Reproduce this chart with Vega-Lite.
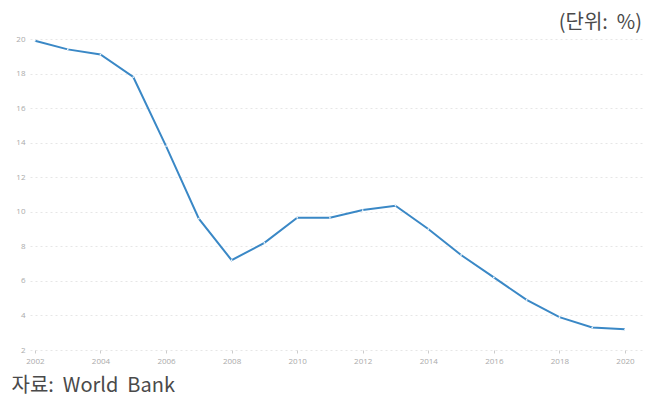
{
  "$schema": "https://vega.github.io/schema/vega-lite/v6.json",
  "autosize": {"type": "none"},
  "padding": {"left": 30, "top": 39, "right": 10, "bottom": 46},
  "width": 613,
  "height": 311,
  "background": "white",
  "title": {
    "text": "(단위:\u00a0\u00a0%)",
    "anchor": "end",
    "orient": "top",
    "font": "Noto Sans CJK KR",
    "fontSize": 20,
    "fontWeight": "normal",
    "color": "#4a4a4a",
    "offset": 2,
    "dx": -1
  },
  "data": {
    "values": [
      {"year": 2002, "value": 19.9},
      {"year": 2003, "value": 19.4},
      {"year": 2004, "value": 19.1},
      {"year": 2005, "value": 17.8},
      {"year": 2006, "value": 13.8},
      {"year": 2007, "value": 9.6},
      {"year": 2008, "value": 7.2},
      {"year": 2009, "value": 8.2},
      {"year": 2010, "value": 9.66},
      {"year": 2011, "value": 9.65},
      {"year": 2012, "value": 10.1},
      {"year": 2013, "value": 10.35},
      {"year": 2014, "value": 9.0},
      {"year": 2015, "value": 7.5},
      {"year": 2016, "value": 6.2},
      {"year": 2017, "value": 4.9},
      {"year": 2018, "value": 3.9},
      {"year": 2019, "value": 3.3},
      {"year": 2020, "value": 3.2}
    ]
  },
  "encoding": {
    "x": {
      "field": "year",
      "type": "quantitative",
      "scale": {"domain": [2001.85, 2020.55], "nice": false, "zero": false},
      "axis": {
        "values": [2002, 2004, 2006, 2008, 2010, 2012, 2014, 2016, 2018, 2020],
        "format": "d",
        "grid": false,
        "domain": false,
        "ticks": true,
        "tickSize": 3,
        "tickColor": "#cccccc",
        "labelFont": "Open Sans",
        "labelFontSize": 8,
        "labelColor": "#aaaaaa",
        "labelPadding": 4,
        "title": "자료:\u00a0\u00a0World\u00a0\u00a0Bank",
        "titleFont": "Noto Sans CJK KR",
        "titleFontSize": 20,
        "titleFontWeight": "normal",
        "titleColor": "#4a4a4a",
        "titleAnchor": "start",
        "titleAlign": "left",
        "titleX": -19,
        "titleY": 45,
        "titleBaseline": "bottom"
      }
    },
    "y": {
      "field": "value",
      "type": "quantitative",
      "scale": {"domain": [2, 20], "nice": false, "zero": false},
      "axis": {
        "values": [2, 4, 6, 8, 10, 12, 14, 16, 18, 20],
        "grid": true,
        "gridColor": "#e6e6e6",
        "gridDash": [2, 3],
        "gridWidth": 1,
        "domain": false,
        "ticks": false,
        "labelFont": "Open Sans",
        "labelFontSize": 8,
        "labelColor": "#aaaaaa",
        "labelPadding": 5,
        "title": null
      }
    }
  },
  "layer": [
    {
      "mark": {"type": "line", "color": "#3a88c6", "strokeWidth": 2}
    },
    {
      "mark": {"type": "point", "filled": true, "color": "white", "size": 3, "opacity": 0.9}
    }
  ],
  "config": {"view": {"stroke": null}}
}
